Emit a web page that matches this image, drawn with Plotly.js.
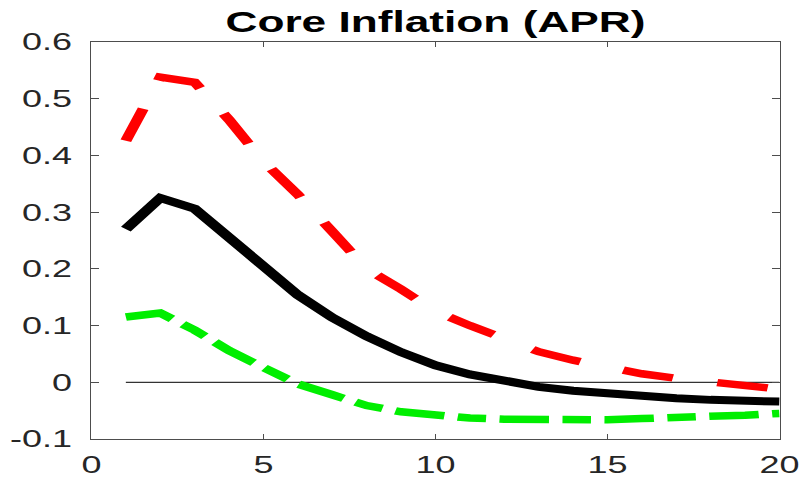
<!DOCTYPE html>
<html>
<head>
<meta charset="utf-8">
<script src="https://cdn.plot.ly/plotly-3.0.1.min.js"></script>
<style>
html, body { margin: 0; padding: 0; overflow: hidden; background: #fff; }
#wrap { width: 805px; height: 477px; overflow: hidden; }
#chart { width: 537px; height: 477px; transform: scaleX(1.49907); transform-origin: 0 0; }
</style>
</head>
<body>
<div id="wrap"><div id="chart"></div></div>
<script>
// Horizon (quarters)
const horizon = [1,2,3,4,5,6,7,8,9,10,11,12,13,14,15,16,17,18,19,20];
// Median response
const median = [0.270,0.325,0.306,0.256,0.201,0.154,0.114,0.081,0.053,0.030,0.014,0.002,-0.008,-0.015,-0.020,-0.025,-0.028,-0.031,-0.032,-0.034];
// Upper band
const upper = [0.426,0.538,0.529,0.463,0.389,0.331,0.266,0.200,0.164,0.125,0.100,0.077,0.054,0.039,0.026,0.015,0.007,0.001,-0.006,-0.012];
// Lower band
const lower = [0.115,0.122,0.092,0.056,0.026,-0.003,-0.022,-0.041,-0.052,-0.059,-0.063,-0.065,-0.066,-0.066,-0.066,-0.064,-0.063,-0.061,-0.058,-0.055];
// Reference line
const zeroLine = horizon.map(() => 0);

const xTickVals = [0,5,10,15,20];
const xTickText = ['0','5','10','15','20'];
const yTickVals = [-0.1,0,0.1,0.2,0.3,0.4,0.5,0.6];
const yTickText = ['-0.1','0','0.1','0.2','0.3','0.4','0.5','0.6'];

const tickFont = { family: 'Liberation Sans, Arial, sans-serif', size: 24, color: '#262626' };
const axisCommon = {
  showgrid: false, zeroline: false, showline: true, linecolor: '#4d4d4d', linewidth: 1.2,
  mirror: 'ticks', ticks: 'inside', ticklen: 5, tickwidth: 1.2, tickcolor: '#4d4d4d',
  tickfont: tickFont, fixedrange: true
};

const traces = [
  { x: horizon, y: zeroLine, mode: 'lines', line: { color: '#333333', width: 1.2 }, hoverinfo: 'skip' },
  { x: horizon, y: upper, mode: 'lines', line: { color: '#ff0000', width: 7.5, dash: '34px,30px' } },
  { x: horizon, y: lower, mode: 'lines', line: { color: '#00ee00', width: 7.5, dash: '33px,9px,19px,9px' } },
  { x: horizon, y: median, mode: 'lines', line: { color: '#000000', width: 8 } }
];

const layout = {
  width: 537, height: 477,
  margin: { l: 61.4, r: 16.7, t: 42, b: 38, pad: 0 },
  paper_bgcolor: '#ffffff', plot_bgcolor: '#ffffff',
  showlegend: false,
  title: {
    text: '<b>Core Inflation (APR)</b>',
    font: { family: 'Liberation Sans, Arial, sans-serif', size: 29.5, color: '#000000' },
    x: 0.5, xref: 'paper', y: 0.955, yref: 'container', yanchor: 'middle'
  },
  xaxis: Object.assign({}, axisCommon, { range: [0, 20], tickvals: xTickVals, ticktext: xTickText, ticklabelstandoff: 4 }),
  yaxis: Object.assign({}, axisCommon, { range: [-0.1, 0.6], tickvals: yTickVals, ticktext: yTickText, ticklabelstandoff: 7 })
};

Plotly.newPlot('chart', traces, layout, { displayModeBar: false, staticPlot: true });
</script>
</body>
</html>
